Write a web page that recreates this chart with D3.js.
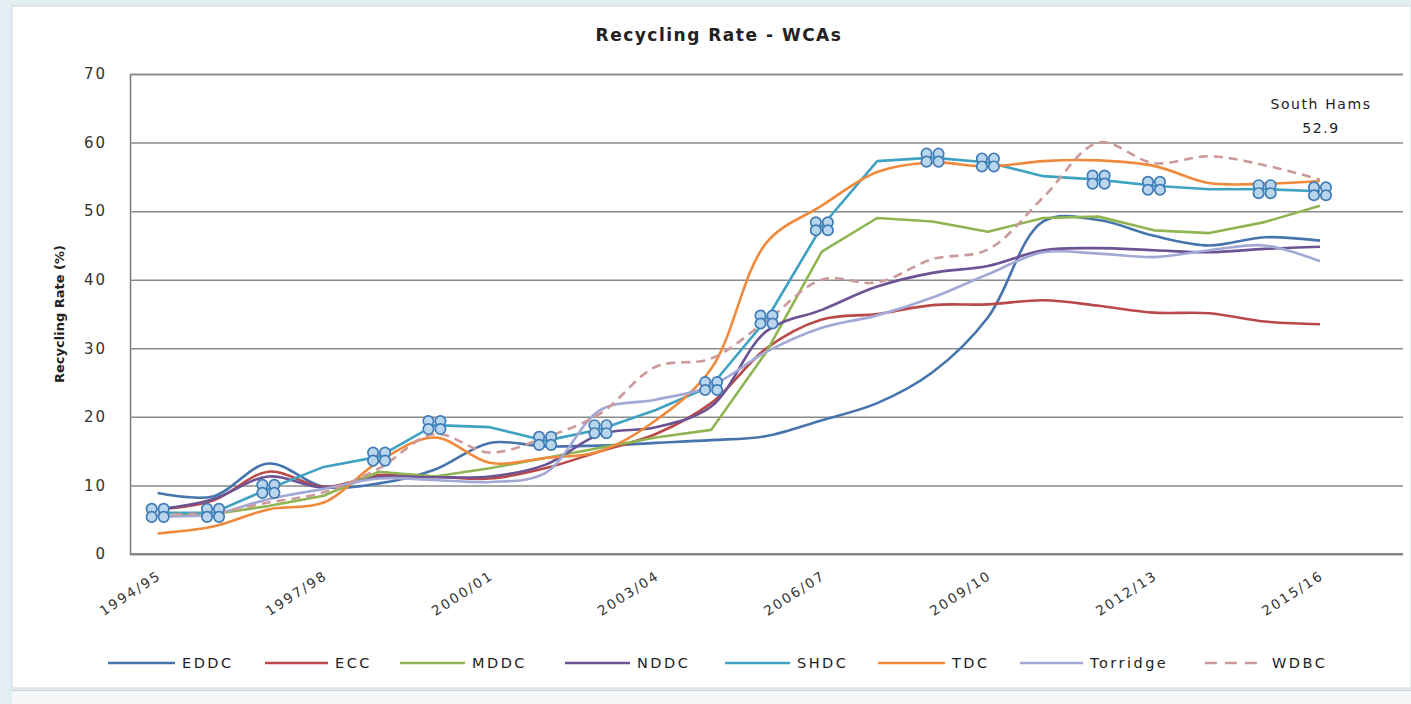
<!DOCTYPE html>
<html>
<head>
<meta charset="utf-8">
<script src="https://cdn.jsdelivr.net/npm/d3@7"></script>
<style>
  html, body { margin: 0; padding: 0; background: #ffffff; }
  svg { display: block; }
</style>
</head>
<body>
<svg id="chart" width="1411" height="704"></svg>
<script>
// ---------- DATA ----------
const categories = ["1994/95","1995/96","1996/97","1997/98","1998/99","1999/00","2000/01","2001/02",
  "2002/03","2003/04","2004/05","2005/06","2006/07","2007/08","2008/09","2009/10","2010/11",
  "2011/12","2012/13","2013/14","2014/15","2015/16","2016/17"];
const tickLabels = ["1994/95","1997/98","2000/01","2003/04","2006/07","2009/10","2012/13","2015/16"];
const yTicks = [0,10,20,30,40,50,60,70];

const seriesNames = ["EDDC","ECC","MDDC","NDDC","SHDC","TDC","Torridge","WDBC"];
const EDDC     = [8.9, 8.4, 13.2, 9.8, 10.3, 12.3, 16.2, 15.7, 15.8, 16.2, 16.6, 17.2, 19.5, 22.0, 26.5, 34.5, 48.5, 48.7, 46.4, 45.0, 46.2, 45.7];
const ECC      = [6.5, 7.8, 12.0, 9.8, 11.5, 11.3, 11.0, 12.5, 15.0, 17.5, 22.0, 30.0, 34.2, 35.0, 36.3, 36.4, 37.0, 36.2, 35.2, 35.1, 33.9, 33.5];
const MDDC     = [5.5, 5.8, 7.0, 8.5, 12.0, 11.3, 12.5, 14.0, 15.5, 17.0, 18.1, 29.5, 44.1, 49.0, 48.5, 47.0, 49.0, 49.2, 47.2, 46.8, 48.4, 50.8];
const NDDC     = [6.5, 8.0, 11.3, 9.7, 11.2, 11.2, 11.3, 13.0, 17.5, 18.5, 21.5, 32.5, 35.6, 39.0, 41.0, 42.0, 44.3, 44.6, 44.3, 44.0, 44.5, 44.8];
const SHDC     = [6.0, 6.0, 9.5, 12.7, 14.2, 18.8, 18.5, 16.5, 18.2, 21.0, 24.5, 34.2, 47.8, 57.3, 57.8, 57.1, 55.1, 54.6, 53.7, 53.2, 53.2, 52.9];
const TDC      = [3.0, 4.0, 6.5, 7.5, 13.5, 17.0, 13.3, 14.0, 15.0, 19.5, 27.0, 45.4, 50.8, 55.7, 57.1, 56.5, 57.3, 57.4, 56.6, 54.1, 54.0, 54.4];
const Torridge = [5.5, 5.8, 8.0, 9.5, 11.0, 10.8, 10.5, 11.8, 21.0, 22.5, 24.5, 29.5, 33.0, 34.8, 37.4, 40.8, 44.0, 43.8, 43.3, 44.3, 45.0, 42.7];
const WDBC     = [5.8, 6.0, 7.5, 9.0, 12.5, 17.5, 14.8, 17.0, 20.5, 27.3, 28.5, 34.0, 40.0, 39.6, 43.0, 44.4, 52.0, 60.0, 57.0, 58.0, 56.7, 54.6];
// SHDC points that carry a highlight marker
const shdcMarkerIdx = [0,1,2,4,5,7,8,10,11,12,14,15,17,18,20,21];
const annotationLines = ["South Hams", "52.9"];

const seriesColors = ["#4674ad","#b94a48","#8fb552","#6b5394","#3fa2c2","#ef8a3c","#a3a9d6","#cc9a9a"];
const seriesDash   = [null,null,null,null,null,null,null,"9,6"];
const seriesSmooth = [true,true,false,true,false,true,true,true];

const seriesValues = [EDDC, ECC, MDDC, NDDC, SHDC, TDC, Torridge, WDBC];

// ---------- LAYOUT ----------
const svg = d3.select("#chart");
const W = 1411, H = 704;
const plot = { left: 130, right: 1403, top: 74, bottom: 554 };
const FONT = "DejaVu Sans, sans-serif";

// background frame
svg.append("rect").attr("x",0).attr("y",0).attr("width",W).attr("height",H).attr("fill","#e3eef2");
svg.append("rect").attr("x",12).attr("y",6).attr("width",W-12).attr("height",682)
  .attr("fill","#ffffff").attr("stroke","#cfd6d9").attr("stroke-width",1);
svg.append("rect").attr("x",12).attr("y",690).attr("width",W-12).attr("height",14).attr("fill","#f4f6f7");
svg.append("line").attr("x1",12).attr("x2",W).attr("y1",690.5).attr("y2",690.5).attr("stroke","#cfcfcf");

const x = d3.scaleBand().domain(categories).range([plot.left, plot.right]).paddingInner(0).paddingOuter(0);
const cx = c => x(c) + x.bandwidth()/2;
const y = d3.scaleLinear().domain([0,70]).range([plot.bottom, plot.top]);

// gridlines
const yAxis = d3.axisLeft(y).tickValues(yTicks).tickSize(-(plot.right - plot.left)).tickFormat(d3.format("d")).tickPadding(23);
const gy = svg.append("g").attr("transform", `translate(${plot.left},0)`).call(yAxis);
gy.select(".domain").attr("stroke","#7a7a7a").attr("stroke-width",1.5);
gy.selectAll(".tick line").attr("stroke","#8a8a8a").attr("stroke-width",1.5);
gy.selectAll(".tick text").attr("font-family",FONT).attr("font-size",15)
  .attr("fill","#333").attr("letter-spacing","2px");

// x axis
const xAxis = d3.axisBottom(x).tickValues(tickLabels).tickSize(0).tickPadding(0);
const gx = svg.append("g").attr("transform", `translate(0,${plot.bottom})`).call(xAxis);
gx.select(".domain").remove();
gx.selectAll(".tick text")
  .attr("font-family",FONT).attr("font-size",13.5)
  .attr("fill","#333").attr("letter-spacing","2px")
  .attr("text-anchor","end")
  .attr("transform","translate(2,20) rotate(-33)")
  .attr("dy","0.35em").attr("y",0);
svg.append("line").attr("x1",plot.left).attr("x2",plot.right).attr("y1",plot.bottom).attr("y2",plot.bottom)
  .attr("stroke","#7a7a7a").attr("stroke-width",1.5);

// y label
svg.append("text").attr("transform",`translate(64,${(plot.top+plot.bottom)/2 + 0}) rotate(-90)`)
  .attr("text-anchor","middle").attr("font-family",FONT)
  .attr("font-size",13).attr("font-weight","bold").attr("fill","#222")
  .text("Recycling Rate (%)");

// title
svg.append("text").attr("x",719).attr("y",41).attr("text-anchor","middle")
  .attr("font-family",FONT).attr("font-size",17).attr("font-weight","bold")
  .attr("letter-spacing","1.5px")
  .attr("fill","#222").text("Recycling Rate - WCAs");

// lines
const data = categories.slice(0, 22);
seriesNames.forEach((name, si) => {
  const vals = seriesValues[si];
  const line = d3.line()
    .x((d,i) => cx(data[i]))
    .y(d => y(d))
    .curve(seriesSmooth[si] ? d3.curveCatmullRom.alpha(0.5) : d3.curveLinear);
  svg.append("path").datum(vals)
    .attr("d", line)
    .attr("fill","none")
    .attr("stroke", seriesColors[si])
    .attr("stroke-width", 2.6)
    .attr("stroke-linejoin","round")
    .attr("stroke-dasharray", seriesDash[si]);
});

// SHDC markers (clover of four small circles)
const offs = [[-6,-4],[6,-4],[-6,4],[6,4]];
shdcMarkerIdx.forEach(i => {
  const g = svg.append("g").attr("transform",`translate(${cx(data[i])},${y(SHDC[i])})`);
  offs.forEach(o => {
    g.append("circle").attr("cx",o[0]).attr("cy",o[1]).attr("r",5.2)
      .attr("fill","#b9d6ec").attr("stroke","#3f7bb8").attr("stroke-width",1.7);
  });
});

// annotation
svg.append("text").attr("x",1321).attr("y",109).attr("text-anchor","middle")
  .attr("font-family",FONT).attr("font-size",14).attr("letter-spacing","1.6px")
  .attr("fill","#222").text(annotationLines[0]);
svg.append("text").attr("x",1321).attr("y",133).attr("text-anchor","middle")
  .attr("font-family",FONT).attr("font-size",14).attr("letter-spacing","1.6px")
  .attr("fill","#222").text(annotationLines[1]);

// legend
const legendX = [108, 265, 400, 565, 725, 878, 1020, 1205];
const legendLen = [67, 63, 65, 65, 65, 67, 63, 60];
const ly = 663;
seriesNames.forEach((name, si) => {
  svg.append("line").attr("x1",legendX[si]).attr("x2",legendX[si]+legendLen[si])
    .attr("y1",ly).attr("y2",ly).attr("stroke",seriesColors[si]).attr("stroke-width",2.6)
    .attr("stroke-dasharray", seriesDash[si] ? "12,8" : null);
  svg.append("text").attr("x",legendX[si]+legendLen[si]+7).attr("y",ly).attr("dy","0.36em")
    .attr("font-family",FONT).attr("font-size",14.5).attr("letter-spacing","2.5px")
    .attr("fill","#222").text(name);
});
</script>
</body>
</html>
